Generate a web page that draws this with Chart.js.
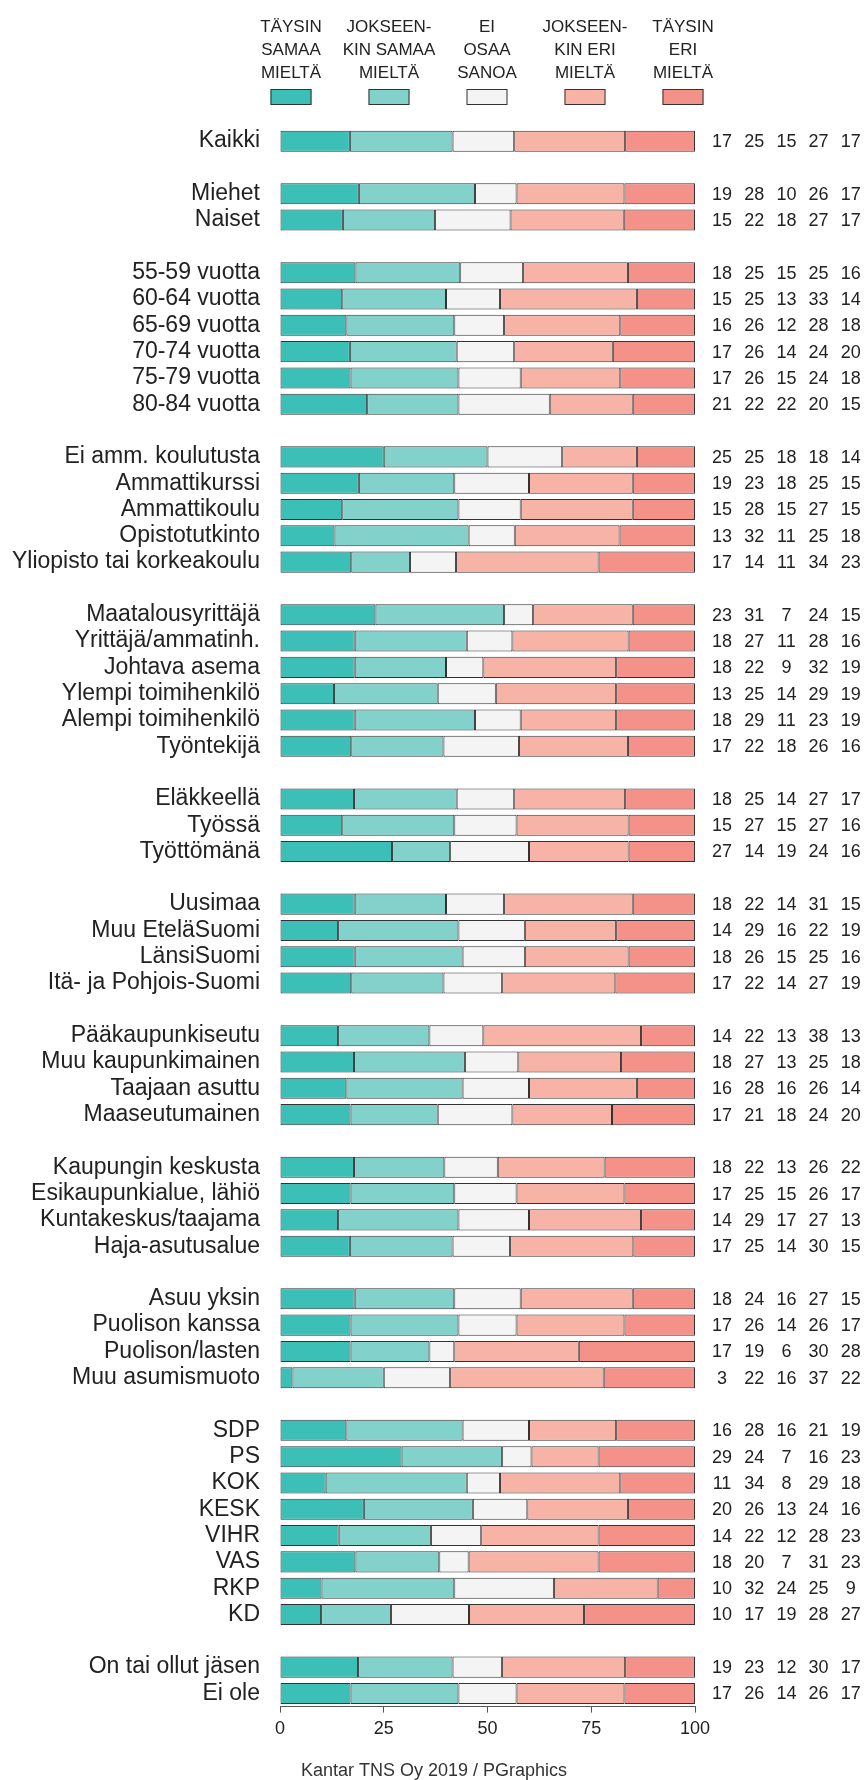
<!DOCTYPE html>
<html lang="fi">
<head>
  <meta charset="UTF-8">
  <title>Mielipiteet taustaryhmittäin</title>
  <script src="https://cdn.jsdelivr.net/npm/chart.js"></script>
  <style>
    body {
      margin: 0;
      background: #fff;
    }
    canvas {
      display: block;
    }
  </style>
</head>
<body>

<canvas id="chart" width="866" height="1780"></canvas>

<script>
// rivit ('' = tyhjä väli ryhmien välissä)
const categories = [
  'Kaikki', '',
  'Miehet', 'Naiset', '',
  '55-59 vuotta', '60-64 vuotta', '65-69 vuotta', '70-74 vuotta', '75-79 vuotta', '80-84 vuotta', '',
  'Ei amm. koulutusta', 'Ammattikurssi', 'Ammattikoulu', 'Opistotutkinto', 'Yliopisto tai korkeakoulu', '',
  'Maatalousyrittäjä', 'Yrittäjä/ammatinh.', 'Johtava asema', 'Ylempi toimihenkilö', 'Alempi toimihenkilö', 'Työntekijä', '',
  'Eläkkeellä', 'Työssä', 'Työttömänä', '',
  'Uusimaa', 'Muu EteläSuomi', 'LänsiSuomi', 'Itä- ja Pohjois-Suomi', '',
  'Pääkaupunkiseutu', 'Muu kaupunkimainen', 'Taajaan asuttu', 'Maaseutumainen', '',
  'Kaupungin keskusta', 'Esikaupunkialue, lähiö', 'Kuntakeskus/taajama', 'Haja-asutusalue', '',
  'Asuu yksin', 'Puolison kanssa', 'Puolison/lasten', 'Muu asumismuoto', '',
  'SDP', 'PS', 'KOK', 'KESK', 'VIHR', 'VAS', 'RKP', 'KD', '',
  'On tai ollut jäsen', 'Ei ole'
];

const taysinSamaa = [17, null, 19, 15, null, 18, 15, 16, 17, 17, 21, null, 25, 19, 15, 13, 17, null, 23, 18, 18, 13, 18, 17, null, 18, 15, 27, null, 18, 14, 18, 17, null, 14, 18, 16, 17, null, 18, 17, 14, 17, null, 18, 17, 17, 3, null, 16, 29, 11, 20, 14, 18, 10, 10, null, 19, 17];
const jokseenkinSamaa = [25, null, 28, 22, null, 25, 25, 26, 26, 26, 22, null, 25, 23, 28, 32, 14, null, 31, 27, 22, 25, 29, 22, null, 25, 27, 14, null, 22, 29, 26, 22, null, 22, 27, 28, 21, null, 22, 25, 29, 25, null, 24, 26, 19, 22, null, 28, 24, 34, 26, 22, 20, 32, 17, null, 23, 26];
const eiOsaaSanoa = [15, null, 10, 18, null, 15, 13, 12, 14, 15, 22, null, 18, 18, 15, 11, 11, null, 7, 11, 9, 14, 11, 18, null, 14, 15, 19, null, 14, 16, 15, 14, null, 13, 13, 16, 18, null, 13, 15, 17, 14, null, 16, 14, 6, 16, null, 16, 7, 8, 13, 12, 7, 24, 19, null, 12, 14];
const jokseenkinEri = [27, null, 26, 27, null, 25, 33, 28, 24, 24, 20, null, 18, 25, 27, 25, 34, null, 24, 28, 32, 29, 23, 26, null, 27, 27, 24, null, 31, 22, 25, 27, null, 38, 25, 26, 24, null, 26, 26, 27, 30, null, 27, 26, 30, 37, null, 21, 16, 29, 24, 28, 31, 25, 28, null, 30, 26];
const taysinEri = [17, null, 17, 17, null, 16, 14, 18, 20, 18, 15, null, 14, 15, 15, 18, 23, null, 15, 16, 19, 19, 19, 16, null, 17, 16, 16, null, 15, 19, 16, 19, null, 13, 18, 14, 20, null, 22, 17, 13, 15, null, 15, 17, 28, 22, null, 19, 23, 18, 16, 23, 23, 9, 27, null, 17, 17];

const seriesNames = ['TÄYSIN SAMAA MIELTÄ', 'JOKSEENKIN SAMAA MIELTÄ', 'EI OSAA SANOA', 'JOKSEENKIN ERI MIELTÄ', 'TÄYSIN ERI MIELTÄ'];
const legendLines = [
  ['TÄYSIN', 'SAMAA', 'MIELTÄ'],
  ['JOKSEEN-', 'KIN SAMAA', 'MIELTÄ'],
  ['EI', 'OSAA', 'SANOA'],
  ['JOKSEEN-', 'KIN ERI', 'MIELTÄ'],
  ['TÄYSIN', 'ERI', 'MIELTÄ']
];
const xTicks = [0, 25, 50, 75, 100];
const source = 'Kantar TNS Oy 2019 / PGraphics';

const series = [taysinSamaa, jokseenkinSamaa, eiOsaaSanoa, jokseenkinEri, taysinEri];
const colors = ['#3bbfb6', '#83d1cb', '#f4f4f4', '#f8b3a7', '#f4928a'];
const FONT = "'Liberation Sans', Arial, sans-serif";

// pyöristetyt luvut eivät aina summaudu sataan -> palkit skaalataan 100:aan
const rowTotals = categories.map((c, i) => series.reduce((s, arr) => s + (arr[i] || 0), 0));

const overlay = {
  id: 'overlay',
  afterDraw(chart) {
    const ctx = chart.ctx;
    const y = chart.scales.y;
    ctx.save();
    ctx.fillStyle = '#222';

    // luvut oikealla
    ctx.font = '18px ' + FONT;
    ctx.textAlign = 'center';
    ctx.textBaseline = 'middle';
    categories.forEach((c, i) => {
      if (!c) return;
      series.forEach((arr, k) => {
        ctx.fillText(String(arr[i]), 722 + k * 32.2, y.getPixelForValue(i) + 1);
      });
    });

    // selite ylhäällä
    ctx.font = '17px ' + FONT;
    ctx.textBaseline = 'alphabetic';
    legendLines.forEach((lines, k) => {
      const cx = 291 + k * 98;
      ctx.fillStyle = '#222';
      lines.forEach((t, j) => ctx.fillText(t, cx, 31.5 + j * 23));
      ctx.fillStyle = colors[k];
      ctx.fillRect(cx - 20.5, 89, 41, 16);
      ctx.strokeStyle = '#333';
      ctx.lineWidth = 1;
      ctx.strokeRect(cx - 20, 89.5, 40, 15);
    });

    // lähde
    ctx.fillStyle = '#333';
    ctx.font = '18px ' + FONT;
    ctx.fillText(source, 434, 1776);
    ctx.restore();
  }
};

new Chart(document.getElementById('chart'), {
  type: 'bar',
  data: {
    labels: categories,
    datasets: series.map((arr, k) => ({
      label: seriesNames[k],
      data: arr.map((v, i) => v == null ? null : v / rowTotals[i] * 100),
      backgroundColor: colors[k],
      borderColor: '#333',
      borderWidth: 1,
      borderSkipped: false,
      barPercentage: 0.8,
      categoryPercentage: 1
    }))
  },
  options: {
    indexAxis: 'y',
    responsive: false,
    animation: false,
    layout: { padding: { top: 128, right: 171, left: 0, bottom: 0 } },
    plugins: {
      legend: { display: false },
      tooltip: { enabled: false }
    },
    scales: {
      x: {
        stacked: true,
        min: 0,
        max: 100,
        afterBuildTicks(scale) {
          scale.ticks = xTicks.map(v => ({ value: v }));
        },
        afterFit(scale) {
          scale.height = 73.4;
        },
        grid: { drawOnChartArea: false, drawTicks: true, tickLength: 6, color: '#555' },
        border: { display: true, color: '#555', width: 1 },
        ticks: { color: '#222', font: { family: FONT, size: 18 }, padding: 6 }
      },
      y: {
        stacked: true,
        afterFit(scale) {
          scale.width = 280;
        },
        grid: { display: false },
        border: { display: false },
        ticks: { color: '#222', font: { family: FONT, size: 23 }, padding: 12, autoSkip: false }
      }
    }
  },
  plugins: [overlay]
});
</script>

</body>
</html>
